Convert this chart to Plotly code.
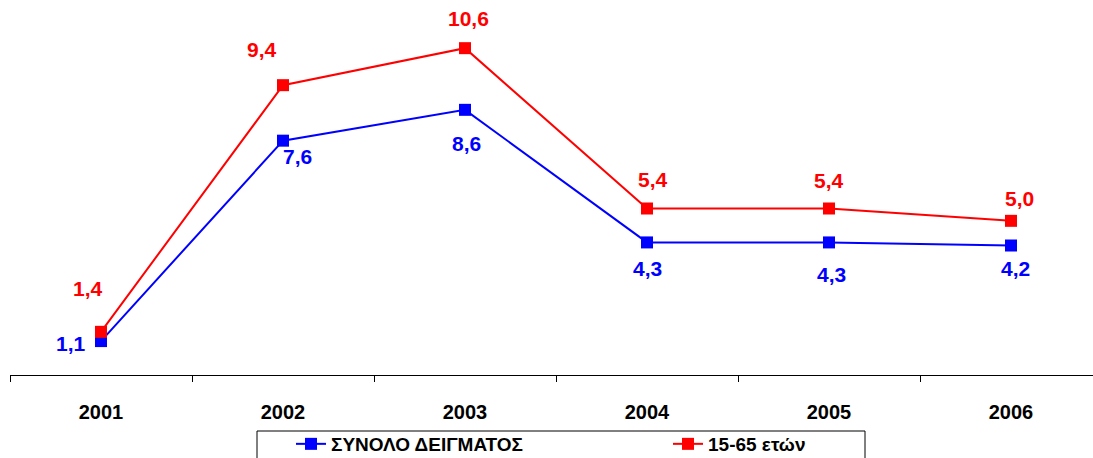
import plotly.graph_objects as go

# Years on the category axis
years = ["2001", "2002", "2003", "2004", "2005", "2006"]

# Series values (percent)
total_sample = [1.1, 7.6, 8.6, 4.3, 4.3, 4.2]
age_15_65 = [1.4, 9.4, 10.6, 5.4, 5.4, 5.0]

series_names = ["ΣΥΝΟΛΟ ΔΕΙΓΜΑΤΟΣ", "15-65 ετών"]

BLUE = "#0000FF"
RED = "#FF0000"
FONT = "Liberation Sans, Arial, sans-serif"

# Pixel offsets of the value labels relative to their markers (dx, dy up)
blue_label_offsets = [(-30, -2), (14, -16), (1, -34), (0, -26), (2, -32), (4, -23)]
red_label_offsets = [(-13, 43), (-21, 36), (3, 30), (6, 29), (0, 28), (8, 22)]

xpos = list(range(len(years)))

fig = go.Figure()
fig.add_trace(go.Scatter(
    x=xpos, y=total_sample, name=series_names[0], mode="lines+markers",
    line=dict(color=BLUE, width=2),
    marker=dict(symbol="square", size=12, color=BLUE),
))
fig.add_trace(go.Scatter(
    x=xpos, y=age_15_65, name=series_names[1], mode="lines+markers",
    line=dict(color=RED, width=2),
    marker=dict(symbol="square", size=12, color=RED),
))


def fmt(v):
    return f"{v:.1f}".replace(".", ",")


annotations = []
for values, offsets, color in ((total_sample, blue_label_offsets, BLUE),
                               (age_15_65, red_label_offsets, RED)):
    for xi, v, (dx, dy) in zip(xpos, values, offsets):
        annotations.append(dict(
            x=xi, y=v, xref="x", yref="y", text=fmt(v), showarrow=False,
            xshift=dx, yshift=dy,
            font=dict(family=FONT, size=21, color=color, weight="bold"),
        ))

# Plot area geometry in pixels, used to place the legend frame
PLOT_L, PLOT_W, PLOT_B, PLOT_H = 10, 1083, 375, 370


def px_to_paper_x(px):
    return (px - PLOT_L) / PLOT_W


def px_to_paper_y(py):
    return (PLOT_B - py) / PLOT_H


legend_frame = dict(
    type="rect", xref="paper", yref="paper", layer="above",
    x0=px_to_paper_x(257), x1=px_to_paper_x(865),
    y0=px_to_paper_y(431), y1=px_to_paper_y(480),
    line=dict(color="#000000", width=1), fillcolor="rgba(0,0,0,0)",
)

fig.update_layout(
    width=1093, height=458,
    margin=dict(l=PLOT_L, r=0, t=5, b=83),
    paper_bgcolor="white", plot_bgcolor="white",
    showlegend=True,
    annotations=annotations,
    shapes=[legend_frame],
    legend=dict(
        orientation="h",
        xref="container", yref="container",
        x=291 / 1093, y=1 - 425 / 458, xanchor="left", yanchor="top",
        borderwidth=0, bgcolor="rgba(0,0,0,0)",
        font=dict(family=FONT, size=19, color="black", weight="bold"),
        entrywidth=332, entrywidthmode="pixels",
        itemwidth=30,
    ),
    xaxis=dict(
        range=[-0.5, -0.5 + PLOT_W / 182],
        tickvals=xpos, ticktext=years,
        ticks="", showgrid=False, zeroline=False,
        showline=True, linecolor="#000000", linewidth=1,
        tickfont=dict(family=FONT, size=20, color="black", weight="bold"),
        ticklabelstandoff=19,
        minor=dict(tick0=-0.5, dtick=1, ticks="outside", ticklen=6,
                   tickcolor="#000000", tickwidth=1, showgrid=False),
        fixedrange=True,
    ),
    yaxis=dict(range=[0, 12], visible=False, fixedrange=True),
)

fig.write_html("out.html")
